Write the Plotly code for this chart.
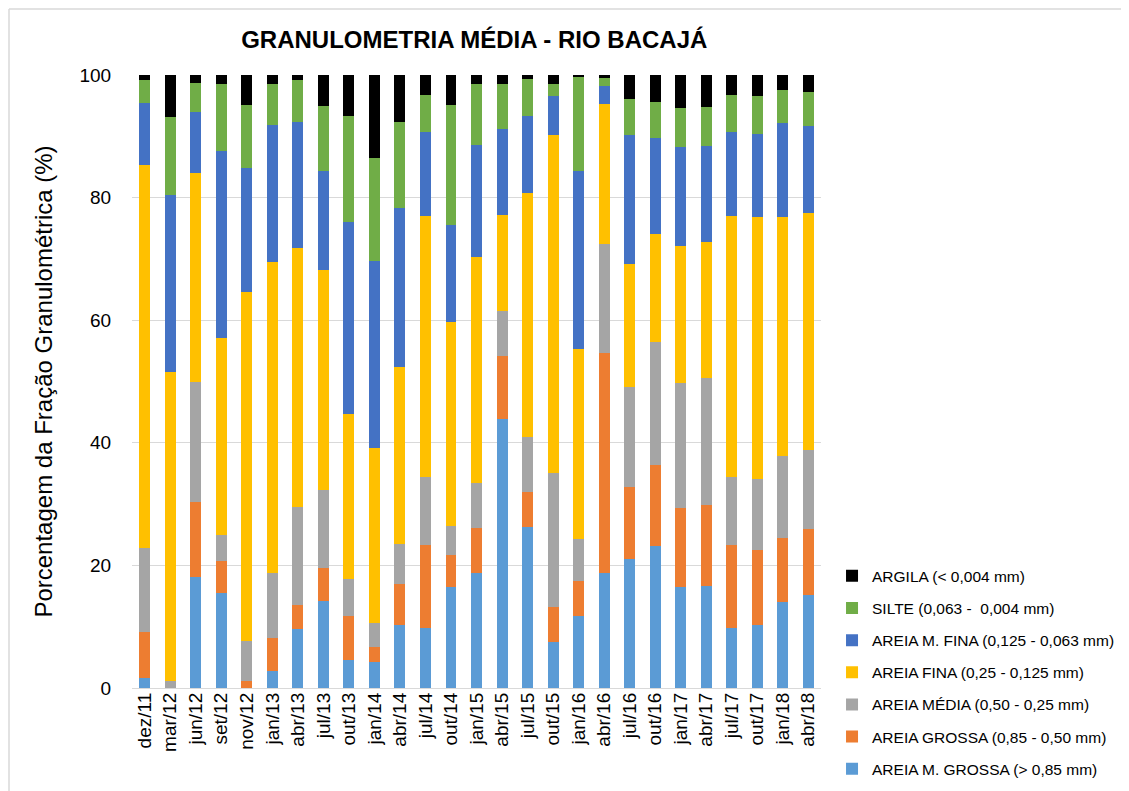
import plotly.graph_objects as go

categories = ["dez/11", "mar/12", "jun/12", "set/12", "nov/12", "jan/13", "abr/13", "jul/13", "out/13",
              "jan/14", "abr/14", "jul/14", "out/14", "jan/15", "abr/15", "jul/15", "out/15", "jan/16",
              "abr/16", "jul/16", "out/16", "jan/17", "abr/17", "jul/17", "out/17", "jan/18", "abr/18"]

areia_m_grossa = [1.7, 0.0, 18.1, 15.5, 0.0, 2.7, 9.6, 14.2, 4.6, 4.3, 10.3, 9.8, 16.5, 18.7, 43.9, 26.3, 7.5, 11.7,
                  18.7, 21.0, 23.2, 16.4, 16.7, 9.8, 10.3, 14.1, 15.1]
areia_grossa = [7.4, 0.0, 12.2, 5.2, 1.1, 5.5, 3.9, 5.4, 7.1, 2.4, 6.7, 13.5, 5.2, 7.4, 10.3, 5.7, 5.7, 5.8,
                35.9, 11.8, 13.2, 13.0, 13.2, 13.5, 12.2, 10.4, 10.8]
areia_media = [13.7, 1.1, 19.7, 4.3, 6.6, 10.6, 16.0, 12.7, 6.1, 3.9, 6.5, 11.1, 4.8, 7.3, 7.3, 8.9, 21.9, 6.8,
               17.8, 16.3, 20.0, 20.4, 20.7, 11.1, 11.6, 13.3, 12.9]
areia_fina = [62.5, 50.4, 34.0, 32.1, 56.9, 50.7, 42.2, 35.9, 26.9, 28.6, 28.9, 42.6, 33.2, 36.9, 15.7, 39.8, 55.1,
              31.0, 22.9, 20.1, 17.7, 22.3, 22.2, 42.6, 42.7, 39.0, 38.7]
areia_m_fina = [10.2, 28.9, 10.0, 30.5, 20.2, 22.3, 20.7, 16.2, 31.4, 30.5, 25.9, 13.7, 15.9, 18.3, 14.0, 12.6, 6.4,
                29.0, 2.9, 21.0, 15.6, 16.2, 15.6, 13.7, 13.6, 15.4, 14.2]
silte = [3.7, 12.7, 4.7, 10.9, 10.3, 6.7, 6.8, 10.6, 17.2, 16.7, 14.0, 6.0, 19.5, 9.9, 7.3, 6.1, 1.9, 15.4,
         1.3, 5.9, 5.9, 6.3, 6.4, 6.0, 6.2, 5.4, 5.5]
argila = [0.8, 6.9, 1.3, 1.5, 4.9, 1.5, 0.8, 5.0, 6.7, 13.6, 7.7, 3.3, 4.9, 1.5, 1.5, 0.8, 1.5, 0.3,
          0.5, 3.9, 4.4, 5.4, 5.2, 3.3, 3.4, 2.4, 2.8]

series = [
    ("AREIA M. GROSSA (> 0,85 mm)", areia_m_grossa, "#5B9BD5"),
    ("AREIA GROSSA (0,85 - 0,50 mm)", areia_grossa, "#ED7D31"),
    ("AREIA MÉDIA (0,50 - 0,25 mm)", areia_media, "#A5A5A5"),
    ("AREIA FINA (0,25 - 0,125 mm)", areia_fina, "#FFC000"),
    ("AREIA M. FINA (0,125 - 0,063 mm)", areia_m_fina, "#4472C4"),
    ("SILTE (0,063 -  0,004 mm)", silte, "#70AD47"),
    ("ARGILA (< 0,004 mm)", argila, "#000000"),
]

fig = go.Figure()
n = len(series)
for i, (name, vals, color) in enumerate(series):
    fig.add_trace(go.Bar(x=categories, y=vals, name=name, marker=dict(color=color, line=dict(width=0)),
                         legendgroup=name, legendrank=n - i))

fig.update_layout(
    width=1129, height=791,
    barmode="stack", bargap=0.57,
    plot_bgcolor="white", paper_bgcolor="white",
    font=dict(family="Liberation Sans, Arial, sans-serif", color="#000000"),
    margin=dict(l=124, r=316, t=67, b=111, autoexpand=False),
    title=dict(text="<b>GRANULOMETRIA MÉDIA - RIO BACAJÁ</b>", x=0.413, xanchor="center", y=0.96, yanchor="middle",
               font=dict(size=24, color="#000000")),
    legend=dict(x=1.016, y=0.21, xanchor="left", yanchor="top", traceorder="grouped",
                tracegroupgap=9, font=dict(size=15.5, color="#000000"), itemwidth=30),
    xaxis=dict(tickangle=-90, tickfont=dict(size=19, color="#000000"), showgrid=False, showline=False,
               ticks=""),
    yaxis=dict(range=[0, 100], dtick=20, tickfont=dict(size=19, color="#000000"), gridcolor="#D9D9D9",
               gridwidth=1, zeroline=True, zerolinecolor="#D9D9D9", zerolinewidth=1, showline=False,
               ticks="outside", ticklen=16, tickcolor="rgba(0,0,0,0)",
               title=dict(text="Porcentagem da Fração Granulométrica (%)", font=dict(size=24, color="#000000"),
                          standoff=20)),
)

# outer light border of the chart area (top and left edges visible)
x_left = -123 / 689
y_top = 1.0 + 66 / 613
fig.add_shape(type="line", xref="paper", yref="paper", x0=x_left, x1=1.0 + 330 / 689, y0=y_top, y1=y_top,
              line=dict(color="#D9D9D9", width=1.5), layer="below")
fig.add_shape(type="line", xref="paper", yref="paper", x0=x_left, x1=x_left, y0=-110 / 613, y1=y_top,
              line=dict(color="#D9D9D9", width=1.5), layer="below")

fig.write_html("out.html")
